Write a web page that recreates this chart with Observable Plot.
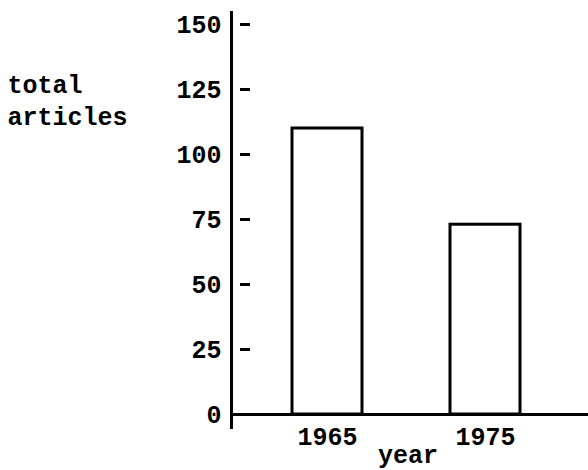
<!DOCTYPE html>
<html>
<head>
<meta charset="utf-8">
<script src="https://cdn.jsdelivr.net/npm/d3@7"></script>
<script src="https://cdn.jsdelivr.net/npm/@observablehq/plot@0.6"></script>
<style>
  html, body { margin: 0; padding: 0; background: white; }
</style>
</head>
<body>
<div id="chart"></div>
<script>
const years = ["1965", "1975"];
const articles = [110, 73];
const yTicks = [0, 25, 50, 75, 100, 125, 150];
const yLabel = "total\narticles";
const xLabel = "year";

const data = years.map((year, i) => ({year, articles: articles[i]}));

const chart = Plot.plot({
  width: 588,
  height: 470,
  marginLeft: 231,
  marginRight: 0,
  marginTop: 12,
  marginBottom: 43,
  style: {
    fontFamily: "'Liberation Mono', monospace",
    fontWeight: "bold",
    fontSize: "25px",
    color: "black",
    background: "white"
  },
  x: {domain: years, paddingInner: 0.557, paddingOuter: 0.405, align: 0.47, label: null},
  y: {domain: [0, 150], range: [414, 24], label: null},
  marks: [
    Plot.frame({anchor: "left", stroke: "black", strokeWidth: 3}),
    Plot.ruleY(yTicks, {insetLeft: 9, insetRight: 338, stroke: "black", strokeWidth: 3}),
    Plot.axisY({ticks: yTicks, tickSize: 0, tickPadding: 10, label: null, fontSize: 25, fontWeight: "bold"}),
    Plot.axisX({tickSize: 0, tickPadding: 0, label: null, fontSize: 25, fontWeight: "bold"}),
    Plot.rectY(data, {x: "year", y: "articles", fill: "none", stroke: "black", strokeWidth: 3}),
    Plot.ruleY([0], {stroke: "black", strokeWidth: 3}),
    Plot.text([xLabel], {frameAnchor: "bottom", lineAnchor: "middle", dy: 27, dx: -2, fontSize: 25, fontWeight: "bold"}),
    Plot.text([yLabel], {frameAnchor: "top-left", textAnchor: "start", lineAnchor: "middle", lineHeight: 1.3, dx: -224, dy: 86, fontSize: 25, fontWeight: "bold"})
  ]
});
document.getElementById("chart").append(chart);
</script>
</body>
</html>
